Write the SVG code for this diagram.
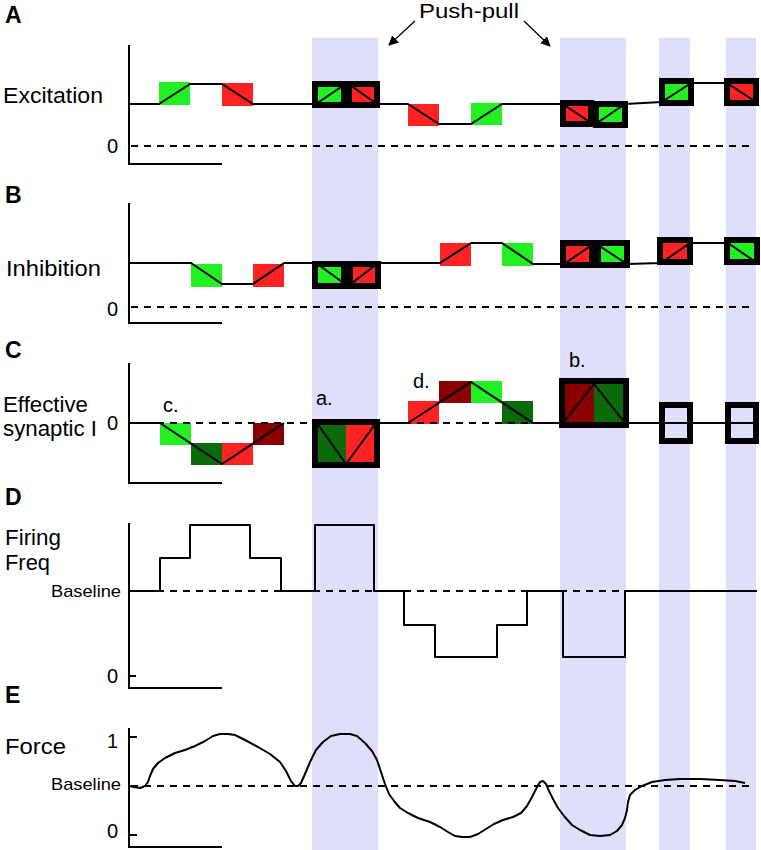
<svg xmlns="http://www.w3.org/2000/svg" width="761" height="850" viewBox="0 0 761 850">
<defs>
<style>
.col{fill:#dfdffb}
.ln{fill:none;stroke:#000;stroke-width:2;stroke-linejoin:round}
.ax{fill:none;stroke:#000;stroke-width:2}
.ds{stroke:#000;stroke-width:1.8;stroke-dasharray:7 6}
.fr{fill:none;stroke:#000;stroke-width:6}
.g{fill:#22f022}.r{fill:#ff2222}.dg{fill:#0b6b0b}.dr{fill:#8a0000}
.gt{fill:#22f022;stroke:#000;stroke-width:6}.rt{fill:#ff2222;stroke:#000;stroke-width:6}
.t{font-family:"Liberation Sans",Arial,sans-serif;fill:#000}
.pl{font-size:23px;font-weight:bold}
.lb{font-size:22px}
.nm{font-size:20px}
.sm{font-size:17px}
.ab{font-size:20px}
.ar{fill:none;stroke:#000;stroke-width:1.3}
</style>
<marker id="ah" viewBox="0 0 10 10" refX="9" refY="5" markerWidth="10" markerHeight="10" markerUnits="userSpaceOnUse" orient="auto">
<path d="M0,0 L10,5 L0,10 z" fill="#000"/>
</marker>
</defs>
<rect width="761" height="850" fill="#fff"/>
<g id="columns">
<rect class="col" x="312" y="38" width="66" height="812"/>
<rect class="col" x="560" y="38" width="66" height="812"/>
<rect class="col" x="659" y="38" width="31" height="812"/>
<rect class="col" x="726" y="38" width="30" height="812"/>
</g>
<g id="push-pull">
<text class="t" x="419" y="18" font-size="20" textLength="100" lengthAdjust="spacingAndGlyphs">Push-pull</text>
<line class="ar" x1="415" y1="21" x2="389" y2="45" marker-end="url(#ah)"/>
<line class="ar" x1="524" y1="21" x2="550" y2="46" marker-end="url(#ah)"/>
</g>
<g id="panelA">
<text class="t pl" x="5" y="23">A</text>
<text class="t lb" x="3" y="103" textLength="100" lengthAdjust="spacingAndGlyphs">Excitation</text>
<text class="t nm" x="118" y="153" text-anchor="end">0</text>
<path class="ax" d="M129,45 V164 H222"/>
<line class="ds" x1="131" y1="146" x2="755" y2="146"/>
<rect class="g" x="159" y="82" width="31" height="23"/>
<rect class="r" x="222" y="83" width="31" height="23"/>
<rect class="r" x="408" y="104" width="31" height="22"/>
<rect class="g" x="471" y="103" width="31" height="22"/>
<rect class="gt" x="315" y="84" width="29" height="21"/>
<rect class="rt" x="349" y="84" width="28" height="21"/>
<rect class="rt" x="563" y="103" width="28" height="21"/>
<rect class="gt" x="596" y="104" width="29" height="21"/>
<rect class="gt" x="662" y="81" width="29" height="22"/>
<rect class="rt" x="727" y="81" width="29" height="22"/>
<polyline class="ln" points="129,104 159,104 190,84 222,84 253,104 316,104 344,85 350,85 377,104 408,104 439,124 471,124 502,104 563,104 591,123 597,123 625,104 662,102 691,83 727,83 756,102"/>
</g>
<g id="panelB">
<text class="t pl" x="5" y="203">B</text>
<text class="t lb" x="6" y="276" textLength="95" lengthAdjust="spacingAndGlyphs">Inhibition</text>
<text class="t nm" x="118" y="316" text-anchor="end">0</text>
<path class="ax" d="M129,203 V323 H222"/>
<line class="ds" x1="131" y1="307" x2="755" y2="307"/>
<rect class="g" x="191" y="264" width="31" height="23"/>
<rect class="r" x="253" y="264" width="31" height="23"/>
<rect class="r" x="440" y="243" width="31" height="23"/>
<rect class="g" x="502" y="243" width="31" height="23"/>
<rect class="gt" x="315" y="264" width="29" height="22"/>
<rect class="rt" x="350" y="264" width="28" height="22"/>
<rect class="rt" x="563" y="243" width="29" height="22"/>
<rect class="gt" x="598" y="243" width="29" height="22"/>
<rect class="rt" x="660" y="240" width="30" height="22"/>
<rect class="gt" x="727" y="240" width="30" height="22"/>
<polyline class="ln" points="129,263 191,263 222,284 253,284 284,263 316,263 345,284 351,284 378,263 440,263 471,243 502,243 533,264 564,264 592,245 598,245 627,264 661,263 690,243 728,243 757,263"/>
</g>
<g id="panelC">
<text class="t pl" x="5" y="358">C</text>
<text class="t lb" x="3" y="412" textLength="85" lengthAdjust="spacingAndGlyphs">Effective</text>
<text class="t lb" x="3" y="436" textLength="94" lengthAdjust="spacingAndGlyphs">synaptic I</text>
<text class="t nm" x="118" y="430" text-anchor="end">0</text>
<text class="t ab" x="163" y="412">c.</text>
<text class="t ab" x="316" y="405">a.</text>
<text class="t ab" x="413" y="388">d.</text>
<text class="t ab" x="569" y="367">b.</text>
<path class="ax" d="M129,363 V483 H222"/>
<rect class="g" x="160" y="423" width="31" height="22"/>
<rect class="dg" x="191" y="443" width="31" height="22"/>
<rect class="r" x="222" y="443" width="31" height="22"/>
<rect class="dr" x="253" y="423" width="31" height="22"/>
<rect class="r" x="408" y="401" width="31" height="23"/>
<rect class="dr" x="439" y="381" width="32" height="22"/>
<rect class="g" x="471" y="381" width="31" height="22"/>
<rect class="dg" x="502" y="401" width="31" height="23"/>
<rect class="dg" x="315" y="422" width="31" height="43"/>
<rect class="r" x="346" y="422" width="31" height="43"/>
<rect class="dr" x="562" y="381" width="32" height="44"/>
<rect class="dg" x="594" y="381" width="32" height="44"/>
<line class="ds" x1="131" y1="423" x2="755" y2="423"/>
<rect class="fr" x="315" y="422" width="62" height="43"/>
<rect class="fr" x="562" y="381" width="64" height="44"/>
<rect class="fr" x="662" y="405" width="28" height="36"/>
<rect class="fr" x="728" y="405" width="28" height="36"/>
<polyline class="ln" points="129,423 160,423 222,464 284,423"/>
<polyline class="ln" points="317,423 346,464 376,423 408,423 471,382 533,423"/>
<polyline class="ln" points="533,423 563,423 594,384 625,423 759,423"/>
</g>
<g id="panelD">
<text class="t pl" x="5" y="505">D</text>
<text class="t lb" x="5" y="545" textLength="56" lengthAdjust="spacingAndGlyphs">Firing</text>
<text class="t lb" x="5" y="570" textLength="45" lengthAdjust="spacingAndGlyphs">Freq</text>
<text class="t sm" x="51" y="597" textLength="70" lengthAdjust="spacingAndGlyphs">Baseline</text>
<text class="t nm" x="118" y="683" text-anchor="end">0</text>
<path class="ax" d="M129,523 V688 H222 M129,676 H136"/>
<line class="ds" x1="131" y1="591" x2="755" y2="591"/>
<polyline class="ln" points="129,591 160,591 160,558 190,558 190,525 250,525 250,558 281,558 281,591 315,591 315,525 374,525 374,591 404,591 404,625 435,625 435,657 497,657 497,625 527,625 527,591 563,591 563,657 625,657 625,591 757,591"/>
</g>
<g id="panelE">
<text class="t pl" x="5" y="703">E</text>
<text class="t lb" x="5" y="754" textLength="61" lengthAdjust="spacingAndGlyphs">Force</text>
<text class="t sm" x="51" y="790" textLength="70" lengthAdjust="spacingAndGlyphs">Baseline</text>
<text class="t nm" x="118" y="748" text-anchor="end">1</text>
<text class="t nm" x="118" y="838" text-anchor="end">0</text>
<path class="ax" d="M129,728 V847 H222 M129,737 H137 M129,835 H137"/>
<line class="ds" x1="131" y1="786" x2="755" y2="786"/>
<polyline class="ln" points="129,786 134,787 140,788 145,786 148,782 150,776 153,769 158,763 165,758 175,753 185,750 195,746 205,741 213,736 220,734 228,734 235,735 245,740 258,747 270,754 280,762 286,771 291,781 295,786 298,786 301,783 305,774 310,762 316,750 323,742 331,736 340,734 350,734 357,736 365,743 372,751 377,760 381,772 385,784 389,794 394,801 400,808 408,813 418,818 430,822 440,827 448,832 455,836 462,837 470,837 478,834 486,829 494,824 503,820 513,817 521,813 527,806 532,797 536,789 540,782 543,781 546,784 549,791 553,799 558,808 564,816 572,825 580,830 590,835 600,836 610,835 617,831 622,825 625,818 627,810 628,802 630,795 635,790 642,786 652,782 665,780 680,779 700,779 720,780 735,781 745,783"/>
</g>
</svg>
